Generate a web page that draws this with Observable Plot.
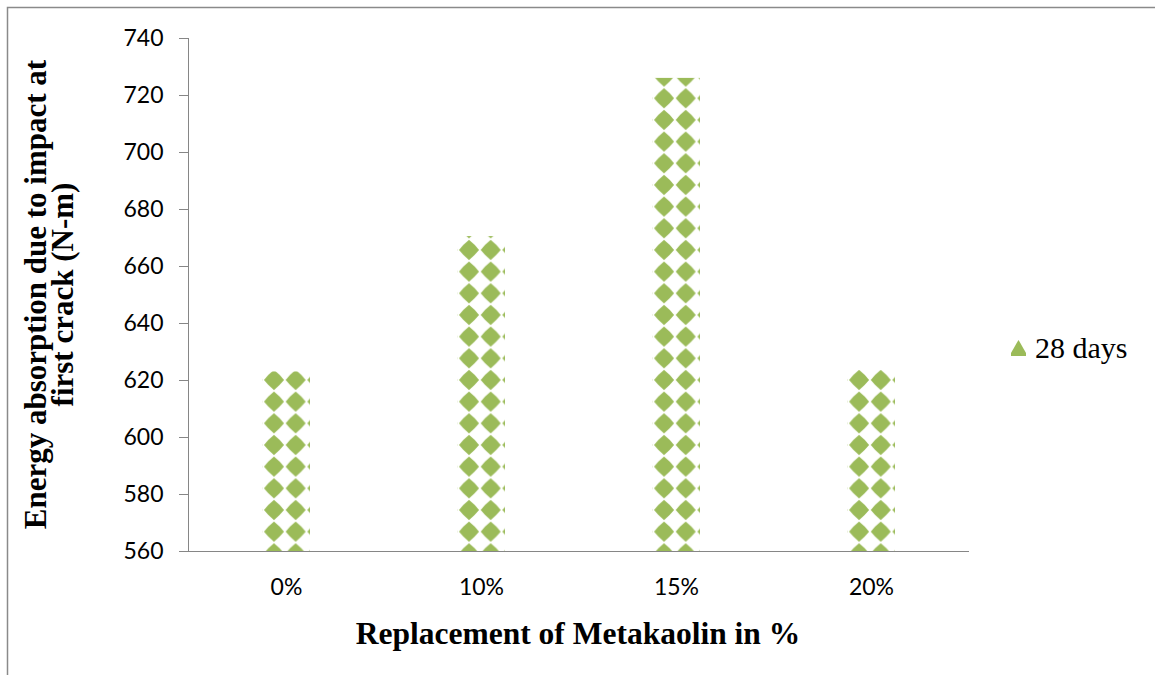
<!DOCTYPE html>
<html><head><meta charset="utf-8">
<script src="https://cdn.jsdelivr.net/npm/d3@7"></script>
<script src="https://cdn.jsdelivr.net/npm/@observablehq/plot@0.6"></script>
<style>
html,body{margin:0;padding:0;background:#fff;}
#wrap{position:relative;width:1155px;height:675px;overflow:hidden;background:#fff;}
#wrap svg text{fill:#000;}
#legend{position:absolute;left:1011px;top:333px;font-family:"Liberation Serif","Times New Roman",serif;font-size:30px;line-height:30px;color:#000;display:flex;align-items:center;white-space:nowrap;}
#legend svg{margin-right:9px;}
</style></head><body>
<div id="wrap"><div id="legend"></div></div>
<script>
// ---- data ----
const categories = ["0%", "10%", "15%", "20%"];
const energy28 = [623, 670.5, 726, 623.5];
const yDomain = [560, 740];
const yTicks = [560, 580, 600, 620, 640, 660, 680, 700, 720, 740];
const seriesName = "28 days";
const xTitle = "Replacement of Metakaolin in %";
const yTitleLines = ["Energy absorption due to impact at", "first crack (N-m)"];

const green = "#9BBB59";
const axisGray = "#868686";

const table = categories.map((c, i) => ({cat: c, value: energy28[i]}));

const plot = Plot.plot({
  width: 1155, height: 675,
  marginLeft: 188, marginRight: 187, marginTop: 38, marginBottom: 124,
  style: {fontFamily: "Lato, sans-serif", fontSize: "23px", color: axisGray, background: "transparent", overflow: "visible"},
  x: {domain: categories, paddingInner: 0.754, paddingOuter: 0.377, tickSize: 0, tickPadding: 27, label: null, line: true},
  y: {domain: yDomain, ticks: yTicks, tickSize: 9, tickPadding: 16, label: null, line: true, tickFormat: d => String(d)},
  marks: [
    Plot.barY(table, {x: "cat", y1: yDomain[0], y2: "value", fill: "url(#diamonds)"})
  ]
});
document.getElementById("wrap").prepend(plot);

// ---- pattern ----
const svg = d3.select(plot);
const xs = plot.scale("x"), ys = plot.scale("y");
const T = 21.67;
const x0 = xs.apply(categories[0]);
const py = ys.apply(620) - T / 2;
const px = x0 + 12 - T / 2;
const defs = svg.insert("defs", ":first-child");
const pat = defs.append("pattern").attr("id", "diamonds").attr("patternUnits", "userSpaceOnUse")
  .attr("x", px).attr("y", py).attr("width", T).attr("height", T);
const c = T / 2, h = 10, k = 5.6;
pat.append("path")
  .attr("d", `M${c},${c - h} Q${c + k},${c - k} ${c + h},${c} Q${c + k},${c + k} ${c},${c + h} Q${c - k},${c + k} ${c - h},${c} Q${c - k},${c - k} ${c},${c - h}Z`)
  .attr("fill", green);

// ---- titles ----
const serif = "'Liberation Serif','Times New Roman',serif";
const yMid = (ys.apply(yDomain[0]) + ys.apply(yDomain[1])) / 2;
const lineX = [35, 62];
yTitleLines.forEach((t, i) => {
  svg.append("text")
    .attr("transform", `translate(${lineX[i]},${yMid}) rotate(-90)`)
    .attr("text-anchor", "middle").attr("dy", "0.35em")
    .style("font-family", serif).style("font-size", "31px").style("font-weight", "bold")
    .text(t);
});
const xMid = (xs.range ? (xs.range[0] + xs.range[1]) / 2 : 578);
svg.append("text")
  .attr("x", xMid).attr("y", 633).attr("dy", "0.35em").attr("text-anchor", "middle")
  .style("font-family", serif).style("font-size", "31.5px").style("font-weight", "bold")
  .text(xTitle);

// ---- outer chart border ----
svg.append("path").attr("d", "M7.5,675V7.5H1155").attr("fill", "none").attr("stroke", "#8a8a8a").attr("stroke-width", 1.5);

// ---- legend ----
const leg = d3.select("#legend");
const sw = leg.append("svg").attr("width", 15).attr("height", 18);
sw.append("path").attr("d", "M7.5,1L9,3.5L15,14V17H0V14L6,3.5Z").attr("fill", green);
leg.append("span").text(seriesName);
</script>
</body></html>
